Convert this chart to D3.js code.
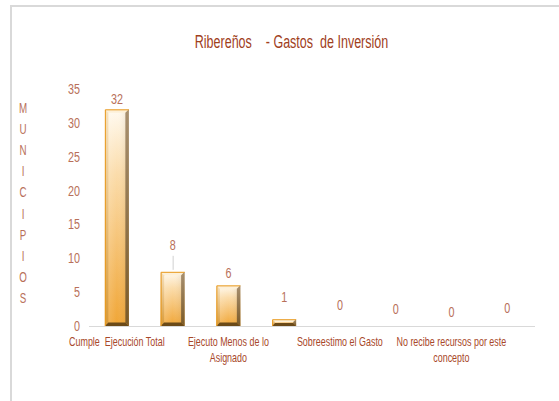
<!DOCTYPE html>
<html>
<head>
<meta charset="utf-8">
<script src="https://cdn.jsdelivr.net/npm/d3@7"></script>
<style>
  html, body { margin: 0; padding: 0; background: #fff; }
  svg { display: block; }
  text { font-family: "Liberation Sans", Arial, sans-serif; }
</style>
</head>
<body>
<svg id="chart" width="559" height="401"></svg>
<script>
// Categories (only every other one gets an axis label, as in the source workbook)
const categories = [
  "Cumple  Ejecución Total",
  "Ejecución Parcial",
  "Ejecuto Menos de lo Asignado",
  "Ejecuto Más de lo Asignado",
  "Sobreestimo el Gasto",
  "Subestimo el Gasto",
  "No recibe recursos por este concepto",
  "Sin Información"
];
const municipios = [32, 8, 6, 1, 0, 0, 0, 0];
const yTicks = [0, 5, 10, 15, 20, 25, 30, 35];
const titleText = "Ribereños    - Gastos  de Inversión";
const axisTitle = "MUNICIPIOS";

const svg = d3.select("#chart");
const W = 559, H = 401;
const plot = { left: 89, right: 535, top: 89, bottom: 326 };

const textColor = "#a8482a";
const tickColor = "#b8705a";

// Condensed text: regular face squeezed horizontally
function narrowText(sel, x, y, sx) {
  return sel.attr("transform", `translate(${x},${y}) scale(${sx},1)`);
}

// Outer frame (top and left edges visible)
svg.append("path")
  .attr("d", `M11,${H} L11,6 L${W},6`)
  .attr("fill", "none").attr("stroke", "#d9d9d9").attr("stroke-width", 2);

// Title
narrowText(svg.append("text"), 291.5, 48, 0.66)
  .attr("text-anchor", "middle")
  .attr("font-size", 19)
  .attr("fill", "#a0401c")
  .attr("xml:space", "preserve")
  .style("white-space", "pre")
  .text(titleText);

const x = d3.scaleBand().domain(categories)
  .range([plot.left, plot.right]).paddingInner(0.57).paddingOuter(0.285);
const y = d3.scaleLinear().domain([0, 35]).range([plot.bottom, plot.top]);

// Y axis: tick labels only
const yAxis = d3.axisLeft(y).tickValues(yTicks).tickSize(0).tickPadding(0);
const gy = svg.append("g").attr("transform", `translate(80,0)`).call(yAxis);
gy.select(".domain").remove();
gy.selectAll("text")
  .attr("font-size", 14).attr("fill", tickColor)
  .attr("transform", "scale(0.77,1)")
  .style("font-family", '"Liberation Sans", Arial, sans-serif');

// Vertical stacked axis title
const letters = axisTitle.split("");
svg.append("g").selectAll("text").data(letters).join("text")
  .each(function (d, i) { narrowText(d3.select(this), 23, 113 + i * 21.1, 0.7); })
  .attr("text-anchor", "middle")
  .attr("font-size", 14)
  .attr("fill", tickColor)
  .text(d => d);

// Baseline
svg.append("line")
  .attr("x1", plot.left).attr("x2", plot.right)
  .attr("y1", plot.bottom + 0.5).attr("y2", plot.bottom + 0.5)
  .attr("stroke", "#d9d9d9").attr("stroke-width", 1);

// Gradients for the bevelled bars
const defs = svg.append("defs");
function vGrad(id, stops) {
  const g = defs.append("linearGradient").attr("id", id)
    .attr("x1", 0).attr("y1", 0).attr("x2", 0).attr("y2", 1);
  stops.forEach(([o, c]) => g.append("stop").attr("offset", o).attr("stop-color", c));
}
vGrad("face", [["0%", "#fffaf0"], ["30%", "#fbdcaa"], ["100%", "#f0a535"]]);
vGrad("leftSide", [["0%", "#f6e2c0"], ["100%", "#d89a38"]]);
vGrad("rightSide", [["0%", "#a89070"], ["100%", "#7a5a28"]]);
const faceH = defs.append("linearGradient").attr("id", "faceH")
  .attr("x1", 0).attr("y1", 0).attr("x2", 1).attr("y2", 0);
faceH.append("stop").attr("offset", "0%").attr("stop-color", "#fff").attr("stop-opacity", 0.2);
faceH.append("stop").attr("offset", "50%").attr("stop-color", "#fff").attr("stop-opacity", 0);
faceH.append("stop").attr("offset", "100%").attr("stop-color", "#6a4a20").attr("stop-opacity", 0.15);

const bars = categories.map((c, i) => ({ cat: c, v: municipios[i] }));
const gBars = svg.append("g");
bars.filter(d => d.v > 0).forEach(d => {
  const x0 = x(d.cat), x1 = x0 + x.bandwidth();
  const y0 = y(d.v), y1 = y(0);
  const b = Math.min(3.5, (y1 - y0) / 2 - 0.5);
  const g = gBars.append("g");
  // front face
  g.append("rect").attr("x", x0).attr("y", y0).attr("width", x1 - x0).attr("height", y1 - y0)
    .attr("fill", "url(#face)");
  g.append("rect").attr("x", x0).attr("y", y0).attr("width", x1 - x0).attr("height", y1 - y0)
    .attr("fill", "url(#faceH)");
  // bevel edges
  g.append("polygon").attr("points", [[x0, y0], [x1, y0], [x1 - b, y0 + b], [x0 + b, y0 + b]].join(" "))
    .attr("fill", "#fdf0d8");
  g.append("polygon").attr("points", [[x0, y0], [x0 + b, y0 + b], [x0 + b, y1 - b], [x0, y1]].join(" "))
    .attr("fill", "url(#leftSide)");
  g.append("polygon").attr("points", [[x1, y0], [x1, y1], [x1 - b, y1 - b], [x1 - b, y0 + b]].join(" "))
    .attr("fill", "url(#rightSide)");
  g.append("polygon").attr("points", [[x0, y1], [x0 + b, y1 - b], [x1 - b, y1 - b], [x1, y1]].join(" "))
    .attr("fill", "#6b4a18");
  // orange rim along the top and left edge
  g.append("path")
    .attr("d", `M${x0 + 0.5},${y1} L${x0 + 0.5},${y0 + 0.5} L${x1},${y0 + 0.5}`)
    .attr("fill", "none").attr("stroke", "#e89a20").attr("stroke-width", 1);
});

// Value labels (hand-nudged positions, with a leader line on the second one)
const labelLift = [10, 27, 12, 22, 21, 17, 14, 18];
svg.append("g").selectAll("text").data(bars).join("text")
  .each(function (d, i) {
    narrowText(d3.select(this), x(d.cat) + x.bandwidth() / 2, y(d.v) - labelLift[i] + 5, 0.72);
  })
  .attr("text-anchor", "middle")
  .attr("font-size", 15)
  .attr("fill", tickColor)
  .text(d => d.v);
svg.append("line")
  .attr("x1", x(categories[1]) + x.bandwidth() / 2 + 0.5)
  .attr("x2", x(categories[1]) + x.bandwidth() / 2 + 0.5)
  .attr("y1", y(municipios[1]) - 16).attr("y2", y(municipios[1]) - 2)
  .attr("stroke", "#d0d0d0").attr("stroke-width", 1);

// Category labels: every other category, wrapped to two slots of width
const catScale = 0.745;
const labelW = 112 / catScale;
const gx = svg.append("g");
categories.forEach((c, i) => {
  if (i % 2 !== 0) return;
  const cx = x(c) + x.bandwidth() / 2;
  const t = narrowText(gx.append("text"), cx, 346, catScale)
    .attr("text-anchor", "middle")
    .attr("font-size", 12)
    .attr("fill", textColor)
    .attr("xml:space", "preserve")
    .style("white-space", "pre");
  const words = c.split(" ");
  let lines = [], cur = "";
  const probe = gx.append("text").attr("font-size", 12).style("white-space", "pre");
  words.forEach(w => {
    const test = cur === "" ? w : cur + " " + w;
    probe.text(test);
    if (probe.node().getComputedTextLength() > labelW && cur !== "") {
      lines.push(cur); cur = w;
    } else cur = test;
  });
  lines.push(cur);
  probe.remove();
  lines.forEach((l, k) => {
    t.append("tspan").attr("x", 0).attr("y", k * 16).text(l);
  });
});
</script>
</body>
</html>
